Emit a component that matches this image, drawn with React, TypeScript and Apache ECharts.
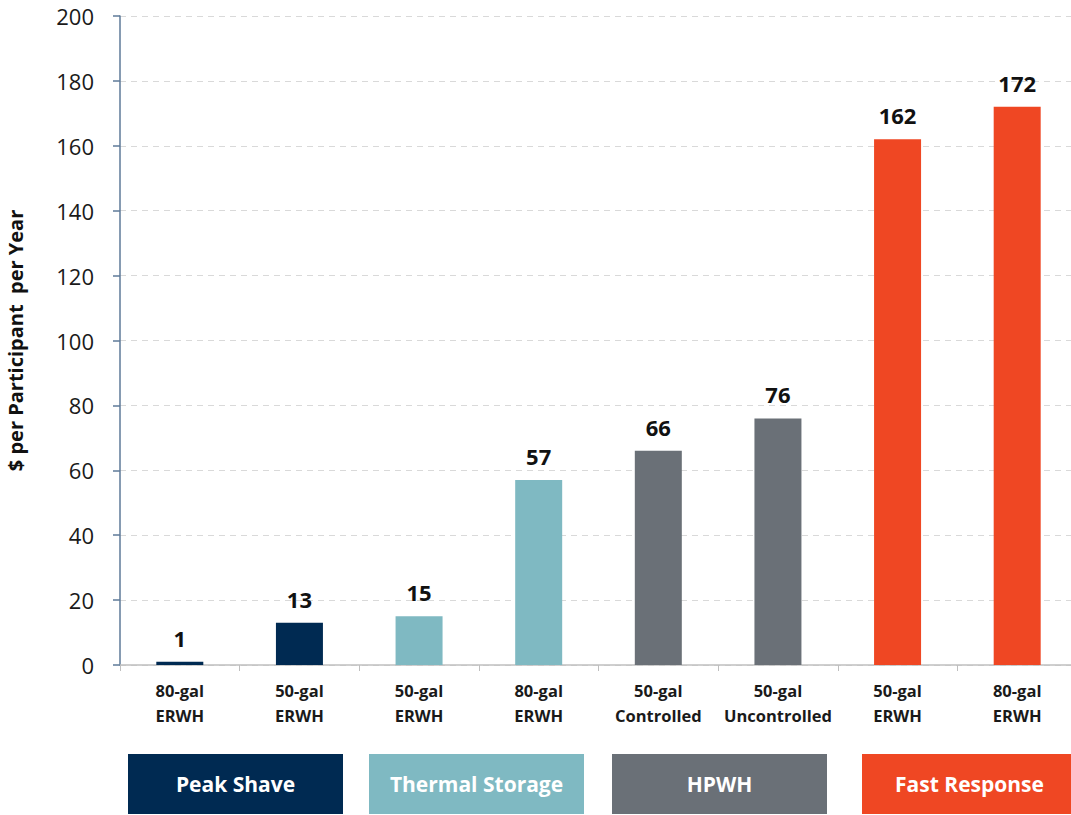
import React, { useEffect, useRef } from "react";
import * as echarts from "echarts";

const categories = [
  "80-gal\nERWH",
  "50-gal\nERWH",
  "50-gal\nERWH",
  "80-gal\nERWH",
  "50-gal\nControlled",
  "50-gal\nUncontrolled",
  "50-gal\nERWH",
  "80-gal\nERWH",
];
const values = [1, 13, 15, 57, 66, 76, 162, 172];
const groupOfBar = [0, 0, 1, 1, 2, 2, 3, 3];
const groupNames = ["Peak Shave", "Thermal Storage", "HPWH", "Fast Response"];
const groupColors = ["#002a52", "#7fb9c2", "#6a7077", "#ef4723"];
const yTicks = { min: 0, max: 200, interval: 20 };

const FONT = "'Open Sans', 'Noto Sans', sans-serif";

export default function App() {
  const ref = useRef<HTMLDivElement>(null);
  useEffect(() => {
    document.body.style.margin = "0";
    const chart = echarts.init(ref.current!, null, { renderer: "svg" });
    const boxX = [128, 369, 612, 862];
    const boxW = 215;
    const graphic = groupNames.map((name, i) => ({
      type: "group",
      children: [
        {
          type: "rect",
          shape: { x: boxX[i], y: 754, width: boxW, height: 60 },
          style: { fill: groupColors[i] },
        },
        {
          type: "text",
          x: boxX[i] + boxW / 2,
          y: 784,
          style: {
            text: name,
            fill: "#ffffff",
            font: `bold 21px ${FONT}`,
            align: "center",
            verticalAlign: "middle",
          },
        },
      ],
    }));
    chart.setOption({
      animation: false,
      grid: {
        left: 120,
        width: 957,
        top: 16,
        bottom: 150,
        containLabel: false,
        outerBoundsMode: "none",
      },
      xAxis: {
        type: "category",
        data: categories,
        axisLine: { lineStyle: { color: "#bfbfbf", width: 1.5 } },
        axisTick: { show: true, length: 6, lineStyle: { color: "#bfbfbf" } },
        axisLabel: {
          color: "#1a1a1a",
          fontFamily: FONT,
          fontWeight: "bold",
          fontSize: 16.5,
          lineHeight: 25,
          margin: 13,
          interval: 0,
        },
      },
      yAxis: {
        type: "value",
        min: yTicks.min,
        max: yTicks.max,
        interval: yTicks.interval,
        name: "$ per Participant  per Year",
        nameLocation: "middle",
        nameGap: 94,
        nameTextStyle: {
          color: "#111111",
          fontFamily: FONT,
          fontWeight: "bold",
          fontSize: 20,
          lineHeight: 22,
        },
        axisLine: { show: true, lineStyle: { color: "#5e7a98", width: 1.5 } },
        axisTick: { show: true, length: 7, lineStyle: { color: "#5e7a98", width: 1.5 } },
        axisLabel: {
          color: "#1a1a1a",
          fontFamily: FONT,
          fontSize: 22,
          margin: 26,
        },
        splitLine: {
          show: true,
          lineStyle: { color: "#d9d9d9", type: [6, 5], width: 1 },
        },
      },
      series: [
        {
          type: "bar",
          barWidth: 47,
          data: values.map((v, i) => ({
            value: v,
            itemStyle: { color: groupColors[groupOfBar[i]] },
          })),
          label: {
            show: true,
            position: "top",
            distance: 13,
            color: "#111111",
            fontFamily: FONT,
            fontWeight: "bold",
            fontSize: 22,
          },
        },
      ],
      graphic,
    });
    return () => chart.dispose();
  }, []);
  return (
    <div
      ref={ref}
      style={{ position: "absolute", left: 0, top: 0, width: 1071, height: 815 }}
    />
  );
}
